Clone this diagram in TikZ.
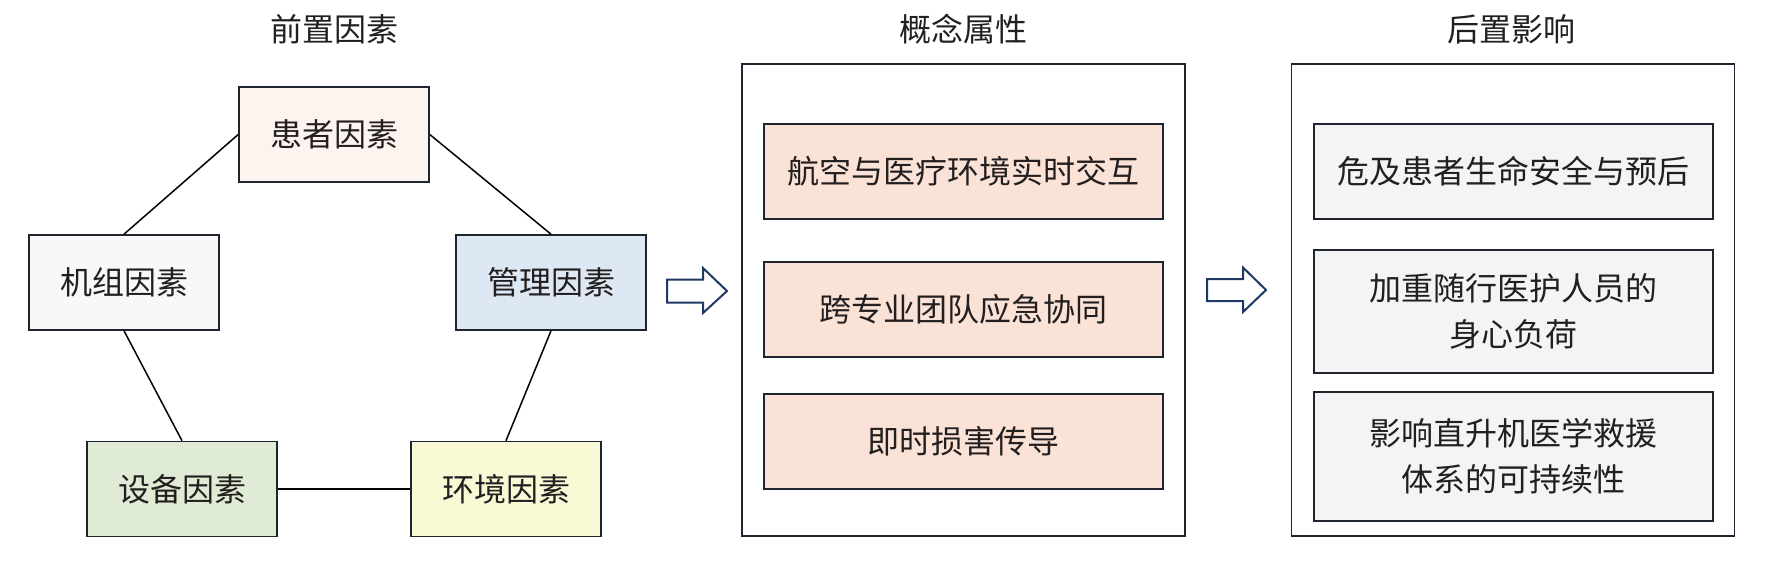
\documentclass[tikz,border=0pt]{standalone}
\usepackage{fontspec}
\setmainfont{Noto Sans CJK SC}
\definecolor{bordercol}{HTML}{1E2430}
\definecolor{arrowcol}{HTML}{1F3864}
\definecolor{txtcol}{HTML}{231F20}
\definecolor{fpatient}{HTML}{FDF4EF}
\definecolor{fcrew}{HTML}{F8F8F8}
\definecolor{fmanage}{HTML}{DEE8F4}
\definecolor{fequip}{HTML}{DFEBD5}
\definecolor{fenv}{HTML}{F9F9D6}
\definecolor{fconcept}{HTML}{FAE3D6}
\definecolor{fafter}{HTML}{F4F4F4}
\begin{document}
\begin{tikzpicture}[x=1pt,y=-1pt,
  every node/.style={font=\fontsize{32}{46}\selectfont, text=txtcol},
  factorbox/.style={draw=bordercol, line width=1.6pt, rectangle, minimum width=190pt, minimum height=95pt, inner sep=0pt, align=center},
  outerbox/.style={draw=bordercol, line width=1.8pt, rectangle, minimum width=443pt, minimum height=472pt, inner sep=0pt},
  itembox/.style={draw=bordercol, line width=1.6pt, rectangle, minimum width=399pt, inner sep=0pt, align=center},
  link/.style={draw=black, line width=1.5pt},
  blockarrow/.style={draw=arrowcol, line width=2pt, fill=white, line join=miter}
]
\useasboundingbox (0,0) rectangle (1792,566);

% titles
\node (t1) at (334,29) {前置因素};
\node (t2) at (963,29) {概念属性};
\node (t3) at (1511,29) {后置影响};

% antecedent factors
\node[factorbox, fill=fpatient] (huanzhe) at (334,134.5) {患者因素};
\node[factorbox, fill=fcrew] (jizu) at (124,282.5) {机组因素};
\node[factorbox, fill=fmanage] (guanli) at (551,282.5) {管理因素};
\node[factorbox, fill=fequip] (shebei) at (182,489) {设备因素};
\node[factorbox, fill=fenv] (huanjing) at (506,489) {环境因素};

\draw[link] (huanzhe.west) -- (jizu.north);
\draw[link] (huanzhe.east) -- (guanli.north);
\draw[link] (jizu.south) -- (shebei.north);
\draw[link] (guanli.south) -- (huanjing.north);
\draw[link] (shebei.east) -- (huanjing.west);

% concept attributes
\node[outerbox] (concept) at (963.5,300) {};
\node[itembox, fill=fconcept, minimum height=95pt] (c1) at (963.5,171.5) {航空与医疗环境实时交互};
\node[itembox, fill=fconcept, minimum height=95pt] (c2) at (963.5,309.5) {跨专业团队应急协同};
\node[itembox, fill=fconcept, minimum height=95pt] (c3) at (963.5,441.5) {即时损害传导};

% consequences
\node[outerbox] (after) at (1513,300) {};
\node[itembox, fill=fafter, minimum height=95pt] (a1) at (1513.5,171.5) {危及患者生命安全与预后};
\node[itembox, fill=fafter, minimum height=123pt] (a2) at (1513.5,311.5) {加重随行医护人员的\\身心负荷};
\node[itembox, fill=fafter, minimum height=129pt] (a3) at (1513.5,456.5) {影响直升机医学救援\\体系的可持续性};

% block arrows
\draw[blockarrow] (667,279.5) -- (703,279.5) -- (703,268) -- (727,291) -- (703,313) -- (703,302.5) -- (667,302.5) -- cycle;
\draw[blockarrow] (1207,279) -- (1243,279) -- (1243,267.5) -- (1266,290) -- (1243,312) -- (1243,301) -- (1207,301) -- cycle;
\end{tikzpicture}
\end{document}
